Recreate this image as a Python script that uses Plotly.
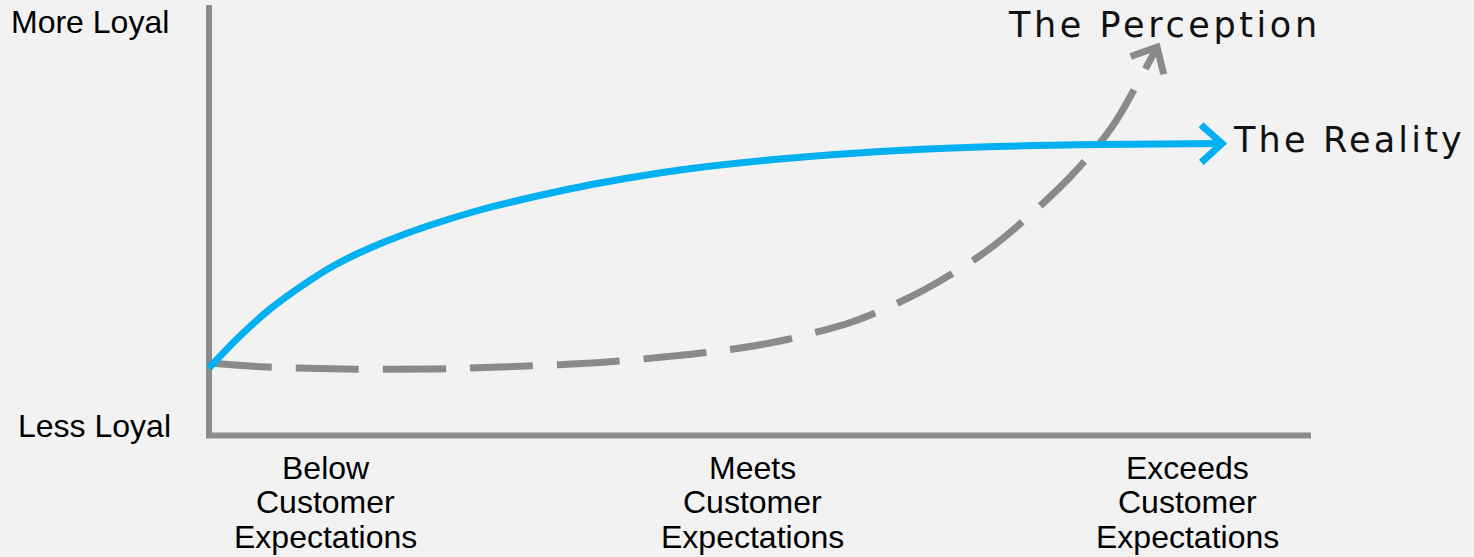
import math
import plotly.graph_objects as go

# ---- data (x: 0 = start of the expectations axis, 100 = its end; y: 0 = less loyal, 100 = more loyal)
reality_x = [0, 2.81, 5.54, 8.26, 11.43, 14.61, 17.79, 20.96, 24.59, 28.22, 31.85, 35.48,
             42.74, 51.81, 60.89, 69.96, 80.85, 91.92]
reality_y = [15.68, 23.11, 29.38, 34.49, 39.60, 43.55, 46.81, 49.59, 52.38, 54.70, 56.79, 58.65,
             61.67, 64.22, 65.97, 67.02, 67.60, 67.83]

perception_x = [0, 5.26, 12.16, 20.33, 26.41, 31.13, 35.48, 41.20, 47.01, 51.81, 54.81, 58.35,
                62.70, 65.70, 70.69, 74.50, 78.31, 81.94, 84.03, 86.03]
perception_y = [16.84, 15.91, 15.45, 15.45, 15.91, 16.38, 16.96, 18.23, 19.86, 21.95, 23.81, 26.36,
                31.01, 34.96, 43.09, 51.22, 60.51, 71.66, 80.72, 90.24]

category_labels = [["Below", "Customer", "Expectations"],
                   ["Meets", "Customer", "Expectations"],
                   ["Exceeds", "Customer", "Expectations"]]
category_x = [10.6, 49.3, 88.8]

axis_labels = ["More Loyal", "Less Loyal"]
series_labels = ["The Perception", "The Reality"]

# ---- layout constants
W, H = 1474, 557
ORIGIN_PX = (209, 435.5)          # pixel position of the axis corner
PX_PER_X = 11.02                  # pixels per x unit
PX_PER_Y = 4.305                  # pixels per y unit

BG = "#f2f2f2"
AXIS_GRAY = "#8c8c8c"
DASH_GRAY = "#8a8a8c"
BLUE = "#00b0f0"
CURVE_W = 7
AXIS_W = 6


def to_px(x, y):
    return ORIGIN_PX[0] + x * PX_PER_X, ORIGIN_PX[1] - y * PX_PER_Y


def from_px(px, py):
    return (px - ORIGIN_PX[0]) / PX_PER_X, (ORIGIN_PX[1] - py) / PX_PER_Y


def chevron(xs, ys, length=28, half_angle=42):
    """Open arrowhead at the end of a polyline, built in screen space."""
    x1, y1 = to_px(xs[-2], ys[-2])
    x2, y2 = to_px(xs[-1], ys[-1])
    ang = math.atan2(y1 - y2, x1 - x2)  # pointing back along the line
    pts = []
    for sgn in (1, -1):
        a = ang + sgn * math.radians(half_angle)
        pts.append(from_px(x2 + length * math.cos(a), y2 + length * math.sin(a)))
    cx = [pts[0][0], xs[-1], pts[1][0]]
    cy = [pts[0][1], ys[-1], pts[1][1]]
    return cx, cy


fig = go.Figure()

# perception: dashed grey curve
fig.add_trace(go.Scatter(
    x=perception_x, y=perception_y, mode="lines",
    line=dict(color=DASH_GRAY, width=CURVE_W, dash="63px,24px", shape="spline", smoothing=1.0),
    hoverinfo="skip"))
px_c, py_c = chevron(perception_x, perception_y)
fig.add_trace(go.Scatter(x=px_c, y=py_c, mode="lines",
                         line=dict(color=DASH_GRAY, width=CURVE_W), hoverinfo="skip"))

# reality: solid blue curve
fig.add_trace(go.Scatter(
    x=reality_x, y=reality_y, mode="lines",
    line=dict(color=BLUE, width=CURVE_W, shape="spline", smoothing=1.0),
    hoverinfo="skip"))
rx_c, ry_c = chevron(reality_x, reality_y)
fig.add_trace(go.Scatter(x=rx_c, y=ry_c, mode="lines",
                         line=dict(color=BLUE, width=CURVE_W), hoverinfo="skip"))

# axes drawn as an L-shaped path
fig.add_shape(type="path", path="M 0,100 L 0,0 L 100,0", xref="x", yref="y",
              line=dict(color=AXIS_GRAY, width=AXIS_W), layer="below")

label_font = dict(family="Liberation Sans, Arial, sans-serif", size=32, color="#000000")
series_font = dict(family="DejaVu Sans, sans-serif", size=35, color="#111111")

annotations = []
# y-axis end labels
for text, (lx, ly) in zip(axis_labels, [from_px(171, 22), from_px(173, 426)]):
    annotations.append(dict(x=lx, y=ly, text=text, showarrow=False, xanchor="right",
                            yanchor="middle", font=label_font))

# category labels under the x-axis, one line at a time
LINE_STEP_PX = 34.5
first_line_py = 467.5
for cx, lines in zip(category_x, category_labels):
    for i, line in enumerate(lines):
        _, ly = from_px(0, first_line_py + i * LINE_STEP_PX)
        annotations.append(dict(x=cx, y=ly, text=line, showarrow=False, xanchor="center",
                                yanchor="middle", font=label_font))

# series labels next to the arrowheads
for text, (lx, ly), spacing in zip(series_labels,
                                   [from_px(1006, 25), from_px(1231, 139.5)],
                                   [3.6, 3.2]):
    annotations.append(dict(x=lx, y=ly,
                            text=f'<span style="letter-spacing:{spacing}px">{text}</span>',
                            showarrow=False, xanchor="left", yanchor="middle", font=series_font))

x_lo, _ = from_px(0, 0)
x_hi, _ = from_px(W, 0)
_, y_hi = from_px(0, 0)
_, y_lo = from_px(0, H)

fig.update_layout(
    width=W, height=H,
    margin=dict(l=0, r=0, t=0, b=0),
    paper_bgcolor=BG, plot_bgcolor=BG,
    showlegend=False,
    xaxis=dict(range=[x_lo, x_hi], visible=False, fixedrange=True),
    yaxis=dict(range=[y_lo, y_hi], visible=False, fixedrange=True),
    annotations=annotations,
)

fig.write_html("out.html", config={"displayModeBar": False})
